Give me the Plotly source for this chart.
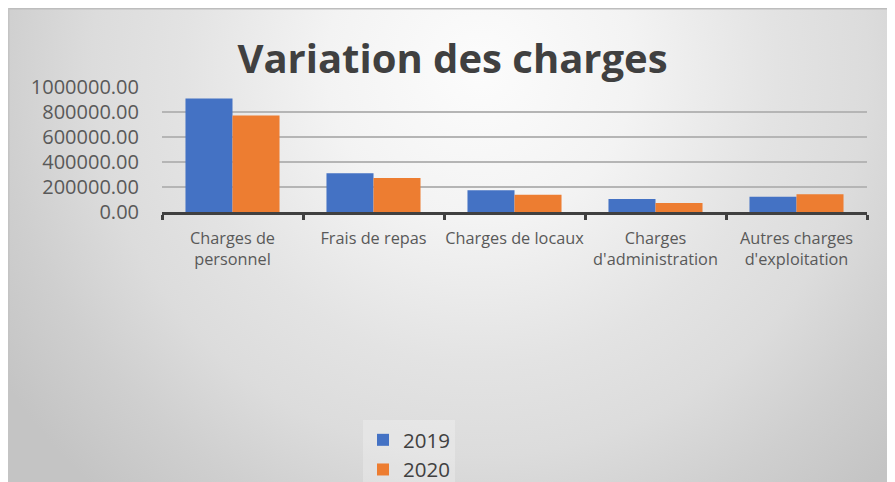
import base64
import plotly.graph_objects as go

categories = ["Charges de<br>personnel", "Frais de repas", "Charges de locaux",
              "Charges<br>d'administration", "Autres charges<br>d'exploitation"]
values_2019 = [908000, 311000, 175000, 104000, 122000]
values_2020 = [773000, 273000, 138000, 72000, 143000]
series_names = ["2019", "2020"]
y_ticks = [0, 200000, 400000, 600000, 800000, 1000000]

# page body offsets the figure by 8px; work in reference (window) pixels
OFF = 8
WW, WH = 895, 482
W, H = WW - OFF, WH - OFF
L, R, T, B = 162, 867, 87, 212  # plot area in window pixels


def px2x(px):
    return (px - L) / (R - L)


def px2y(py):
    return (B - py) / (B - T)


svg = '''<svg xmlns="http://www.w3.org/2000/svg" width="890" height="474" viewBox="0 0 890 474" preserveAspectRatio="none">
<defs><radialGradient id="g" gradientUnits="userSpaceOnUse" cx="475" cy="60" r="570">
<stop offset="0" stop-color="#fcfcfc"/>
<stop offset="0.27" stop-color="#f3f3f3"/>
<stop offset="0.52" stop-color="#e3e3e3"/>
<stop offset="0.68" stop-color="#dcdcdc"/>
<stop offset="0.84" stop-color="#cfcfcf"/>
<stop offset="1" stop-color="#c4c4c4"/>
</radialGradient></defs>
<rect x="0" y="0" width="890" height="474" fill="url(#g)"/>
</svg>'''
src = "data:image/svg+xml;base64," + base64.b64encode(svg.encode()).decode()

fig = go.Figure()
fig.add_trace(go.Bar(x=categories, y=values_2019, name=series_names[0],
                     marker=dict(color="#4472C4", line=dict(width=0))))
fig.add_trace(go.Bar(x=categories, y=values_2020, name=series_names[1],
                     marker=dict(color="#ED7D31", line=dict(width=0))))

fig.update_layout(
    width=W, height=H,
    margin=dict(l=L - OFF, r=WW - R, t=T - OFF, b=WH - B, autoexpand=False),
    paper_bgcolor="white",
    plot_bgcolor="rgba(0,0,0,0)",
    barmode="group",
    bargap=0.333,
    bargroupgap=0,
    title=dict(text="<b>Variation des charges</b>", xref="container", yref="container",
               x=(452.5 - OFF) / W, xanchor="center", y=1 - (59 - OFF) / H, yanchor="middle",
               font=dict(family="Open Sans", size=40, color="#404040")),
    font=dict(family="Open Sans", color="#595959"),
    legend=dict(orientation="v", xref="container", yref="container",
                x=(363 - OFF) / W, xanchor="left", y=1 - (420 - OFF) / H, yanchor="top",
                bgcolor="rgba(255,255,255,0.25)",
                font=dict(family="Open Sans", size=20.5, color="#404040"),
                itemwidth=30),
    images=[dict(source=src, xref="paper", yref="paper",
                 x=px2x(5), y=px2y(8), sizex=(WW - 5) / (R - L), sizey=(WH - 8) / (B - T),
                 xanchor="left", yanchor="top", sizing="stretch", layer="below")],
    shapes=[
        dict(type="line", xref="paper", yref="paper", x0=px2x(OFF), x1=px2x(WW), y0=px2y(OFF + 0.5), y1=px2y(OFF + 0.5),
             line=dict(color="#bdbdbd", width=2)),
        dict(type="line", xref="paper", yref="paper", x0=px2x(OFF + 0.5), x1=px2x(OFF + 0.5), y0=px2y(OFF), y1=px2y(WH),
             line=dict(color="#c4c4c4", width=2)),
    ],
)

fig.update_xaxes(showline=True, linecolor="#404040", linewidth=3,
                 ticks="outside", ticklen=5, tickwidth=3, tickcolor="#404040",
                 tickson="boundaries", showgrid=False, tickangle=0,
                 tickfont=dict(family="Open Sans", size=16.3, color="#595959"),
                 ticklabelstandoff=9)
fig.update_yaxes(range=[0, 1000000], tickvals=y_ticks, tickformat=".2f",
                 showgrid=True, gridcolor="#b5b5b5", gridwidth=1.5,
                 zeroline=False, showline=False, ticks="",
                 tickfont=dict(family="Open Sans", size=20, color="#595959"),
                 ticklabelstandoff=22)

fig.write_html("out.html")
